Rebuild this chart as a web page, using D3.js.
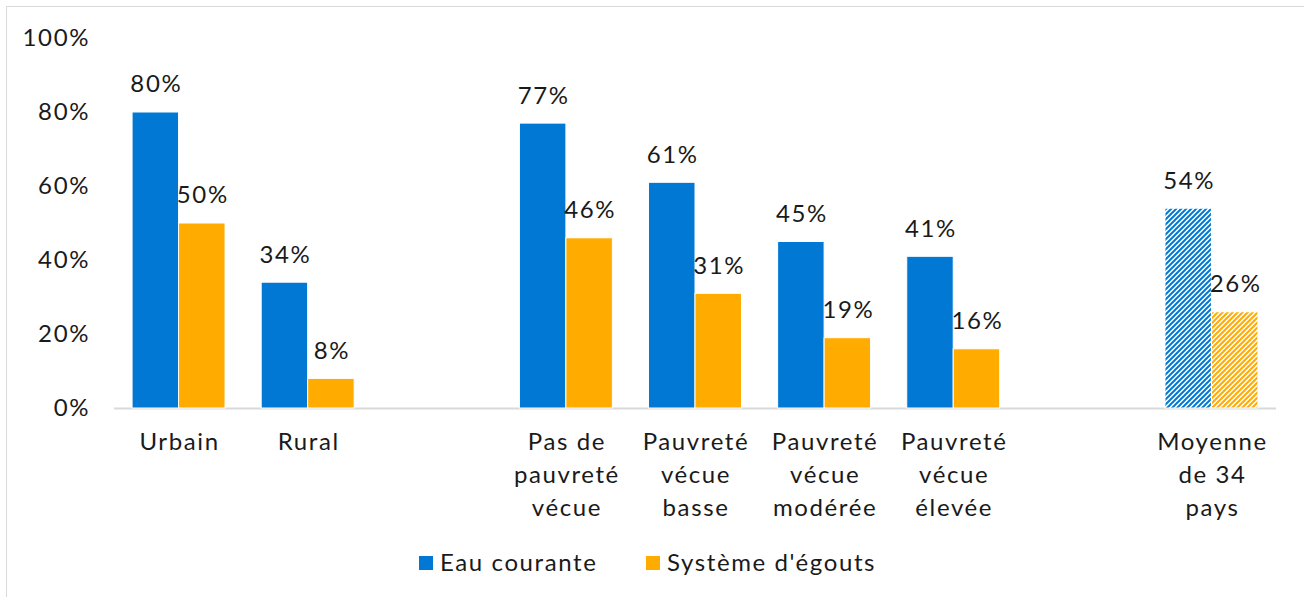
<!DOCTYPE html>
<html>
<head>
<meta charset="utf-8">
<script src="https://cdn.jsdelivr.net/npm/d3@7"></script>
<style>
  body { margin: 0; background: #fff; }
  text { font-family: "Lato", "Open Sans", sans-serif; fill: #1a1a1a; letter-spacing: 1.6px; }
</style>
</head>
<body>
<svg width="1304" height="597"></svg>
<script>
// Chart data
const categories = ["Urbain", "Rural", "", "Pas de pauvreté vécue", "Pauvreté vécue basse",
                    "Pauvreté vécue modérée", "Pauvreté vécue élevée", " ", "Moyenne de 34 pays"];
const catLines = [["Urbain"], ["Rural"], [], ["Pas de", "pauvreté", "vécue"], ["Pauvreté", "vécue", "basse"],
                  ["Pauvreté", "vécue", "modérée"], ["Pauvreté", "vécue", "élevée"], [], ["Moyenne", "de 34", "pays"]];
const eauCourante = [80, 34, null, 77, 61, 45, 41, null, 54];
const egouts      = [50, 8, null, 46, 31, 19, 16, null, 26];
const hatched     = [false, false, false, false, false, false, false, false, true];
const seriesNames = ["Eau courante", "Système d'égouts"];
const yTicks = [0, 20, 40, 60, 80, 100];

const BLUE = "#0078d4", ORANGE = "#ffab00";
const FS = 24;

const svg = d3.select("svg");

// border (top / left of the exported chart area)
svg.append("line").attr("x1", 6.5).attr("x2", 1304).attr("y1", 6.5).attr("y2", 6.5)
  .attr("stroke", "#d9d9d9");
svg.append("line").attr("x1", 6.5).attr("x2", 6.5).attr("y1", 6.5).attr("y2", 597)
  .attr("stroke", "#d9d9d9");

// hatch patterns
const defs = svg.append("defs");
[["hatch-blue", BLUE], ["hatch-orange", ORANGE]].forEach(([id, col]) => {
  const p = defs.append("pattern").attr("id", id)
    .attr("patternUnits", "userSpaceOnUse").attr("width", 5).attr("height", 5);
  p.append("rect").attr("width", 5).attr("height", 5).attr("fill", "#fff");
  p.append("path").attr("d", "M-1,1 l2,-2 M0,5 l5,-5 M4,6 l2,-2")
    .attr("stroke", col).attr("stroke-width", 2);
});

// scales
const x = d3.scaleBand().domain(categories).range([114, 1276]).padding(0);
const y = d3.scaleLinear().domain([0, 100]).range([408, 38]);
const groupW = x.bandwidth() * 0.72;
const barW = groupW / 2;

// y axis labels
svg.append("g").selectAll("text").data(yTicks).join("text")
  .attr("x", 90).attr("y", d => y(d)).attr("dy", "0.35em")
  .attr("text-anchor", "end").attr("font-size", FS)
  .text(d => d + "%");

// baseline
svg.append("line").attr("x1", 114).attr("x2", 1276).attr("y1", 408.5).attr("y2", 408.5)
  .attr("stroke", "#d9d9d9").attr("stroke-width", 2);

// bars
const rows = categories.map((c, i) => ({ c, i, v: [eauCourante[i], egouts[i]], h: hatched[i] }))
  .filter(d => d.v[0] != null);

const bars = [];
rows.forEach(d => {
  d.v.forEach((v, k) => {
    bars.push({ c: d.c, k, v, h: d.h });
  });
});

svg.append("g").selectAll("rect").data(bars).join("rect")
  .attr("x", d => x(d.c) + (x.bandwidth() - groupW) / 2 + d.k * barW)
  .attr("y", d => y(d.v))
  .attr("width", barW)
  .attr("height", d => y(0) - y(d.v))
  .attr("fill", d => d.h ? (d.k ? "url(#hatch-orange)" : "url(#hatch-blue)") : (d.k ? ORANGE : BLUE))
  .attr("stroke", "#fff").attr("stroke-width", 1);

// value labels
svg.append("g").selectAll("text").data(bars).join("text")
  .attr("x", d => x(d.c) + (x.bandwidth() - groupW) / 2 + d.k * barW + barW / 2 + 1)
  .attr("y", d => y(d.v) - 28).attr("dy", "0.35em")
  .attr("text-anchor", "middle").attr("font-size", FS)
  .text(d => d.v + "%");

// category labels
const cat = svg.append("g").selectAll("text").data(categories).join("text")
  .attr("text-anchor", "middle").attr("font-size", FS)
  .attr("x", d => x(d) + x.bandwidth() / 2 + 1).attr("y", 442);
cat.selectAll("tspan").data((d, i) => catLines[i]).join("tspan")
  .attr("x", function() { return this.parentNode.getAttribute("x"); })
  .attr("dy", (d, i) => i === 0 ? "0.35em" : "33px")
  .text(d => d);

// legend
const legend = svg.append("g");
const legX = [419, 646];
seriesNames.forEach((n, i) => {
  legend.append("rect").attr("x", legX[i]).attr("y", 556).attr("width", 14).attr("height", 14)
    .attr("fill", i ? ORANGE : BLUE);
  legend.append("text").attr("x", legX[i] + 21).attr("y", 563).attr("dy", "0.35em")
    .attr("font-size", FS).text(n);
});
</script>
</body>
</html>
